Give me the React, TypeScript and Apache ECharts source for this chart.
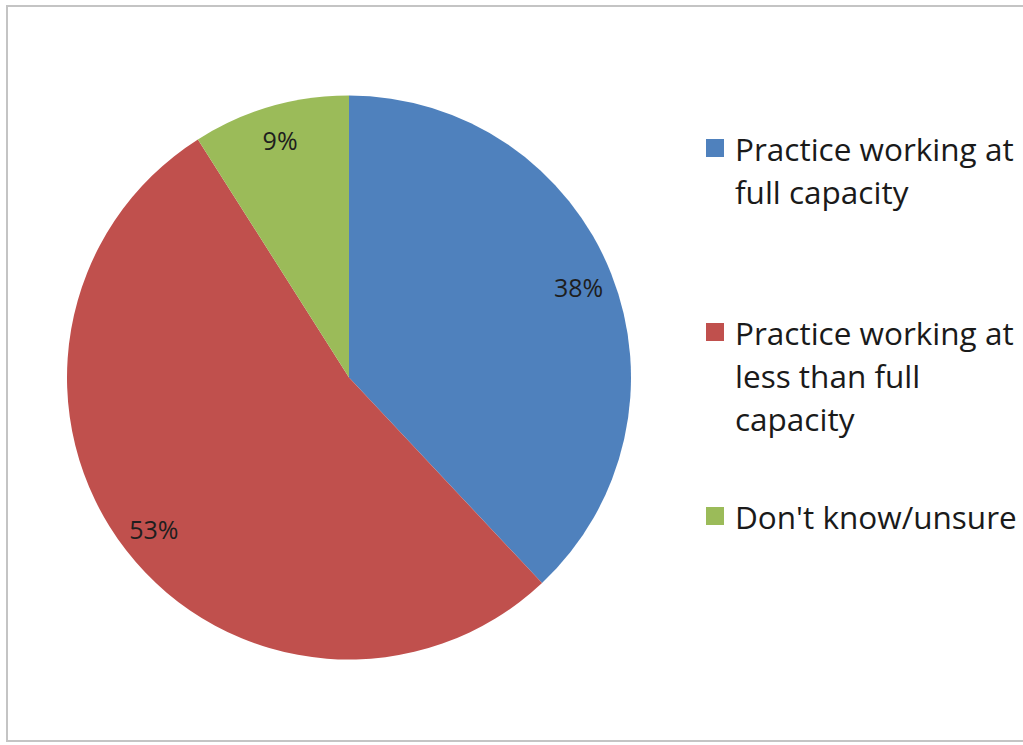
import React, { useEffect, useRef } from "react";
import * as echarts from "echarts";

const categories = [
  "Practice working at\nfull capacity",
  "Practice working at\nless than full\ncapacity",
  "Don't know/unsure",
];
const values = [38, 53, 9];
const colors = ["#4F81BD", "#C0504D", "#9BBB59"];
const legendCenters = [148, 332, 516];

const FONT = "'Open Sans', 'Noto Sans', sans-serif";
const LH = 43;

export default function App() {
  const ref = useRef<HTMLDivElement>(null);
  useEffect(() => {
    document.body.style.margin = "0";
    if (!ref.current) return;
    const chart = echarts.init(ref.current, null, { renderer: "svg" });
    const data = categories.map((name, i) => ({
      name,
      value: values[i],
      itemStyle: { color: colors[i] },
    }));
    const legendGraphics: any[] = [];
    categories.forEach((name, i) => {
      const c = legendCenters[i];
      legendGraphics.push({
        type: "rect",
        shape: { x: 706, y: c - 9, width: 18, height: 18 },
        style: { fill: colors[i] },
      });
      legendGraphics.push({
        type: "text",
        x: 735,
        y: c - LH / 2,
        style: {
          text: name,
          font: `31.5px ${FONT}`,
          fill: "#1a1a1a",
          lineHeight: LH,
          verticalAlign: "top",
          align: "left",
        },
      });
    });
    chart.setOption({
      animation: false,
      backgroundColor: "#ffffff",
      graphic: [
        {
          type: "rect",
          shape: { x: 7, y: 6, width: 1030, height: 735 },
          style: { fill: "none", stroke: "#c4c4c4", lineWidth: 2 },
          silent: true,
        },
        ...legendGraphics,
      ],
      series: [
        {
          type: "pie",
          center: [349, 377.5],
          radius: [0, 282],
          startAngle: 90,
          clockwise: true,
          data,
          label: { show: false },
          labelLine: { show: false },
          itemStyle: { borderWidth: 0 },
          emphasis: { disabled: true },
        },
        {
          type: "pie",
          center: [349, 377.5],
          radius: [206, 282],
          startAngle: 90,
          clockwise: true,
          data: categories.map((name, i) => ({ name, value: values[i] })),
          itemStyle: { color: "transparent", borderWidth: 0 },
          label: {
            show: true,
            position: "inside",
            formatter: (p: any) => `${p.value}%`,
            fontFamily: FONT,
            fontSize: 25,
            color: "#1e1e1e",
          },
          labelLine: { show: false },
          silent: true,
          emphasis: { disabled: true },
        },
      ],
    });
    return () => chart.dispose();
  }, []);
  return <div ref={ref} style={{ width: 1023, height: 745 }} />;
}
